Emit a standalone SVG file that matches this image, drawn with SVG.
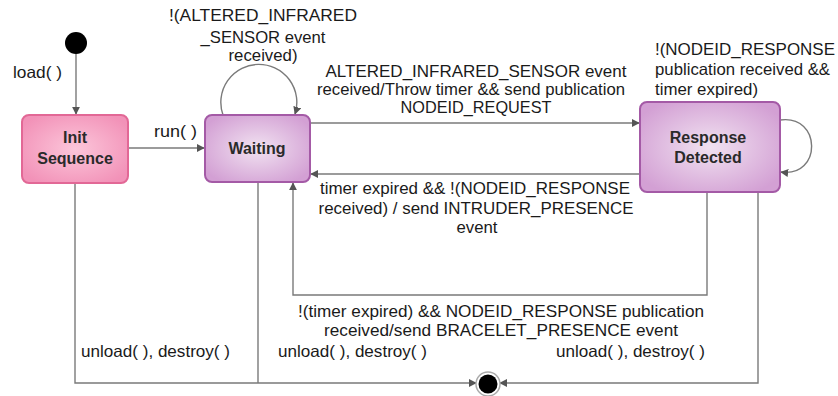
<svg xmlns="http://www.w3.org/2000/svg" width="838" height="396" viewBox="0 0 838 396">
<defs>
<style>
.lbl{font-family:"Liberation Sans",Arial,sans-serif;font-size:16.5px;fill:#1a1a1a}
.ttl{font-family:"Liberation Sans",Arial,sans-serif;font-size:16px;font-weight:bold;fill:#2a2a2a;text-anchor:middle}
.c{text-anchor:middle}
.edge{fill:none;stroke:#7a7a7a;stroke-width:1.4}
</style>
<radialGradient id="gPink" cx="50%" cy="50%" r="60%">
<stop offset="0" stop-color="#fcc6da"/>
<stop offset="1" stop-color="#f292b8"/>
</radialGradient>
<radialGradient id="gPurple" cx="50%" cy="50%" r="60%">
<stop offset="0" stop-color="#f1e2f1"/>
<stop offset="1" stop-color="#d3a0d4"/>
</radialGradient>
<marker id="arr" viewBox="0 0 10 10" refX="9" refY="5" markerWidth="8" markerHeight="8" markerUnits="userSpaceOnUse" orient="auto">
<path d="M0,0 L10,5 L0,10 z" fill="#555"/>
</marker>
</defs>
<rect width="838" height="396" fill="#ffffff"/>

<g id="connectors">
<path class="edge" d="M76,54 V114" marker-end="url(#arr)"/>
<path class="edge" d="M128,148 H204" marker-end="url(#arr)"/>
<path class="edge" d="M223,115 A38,38 0 1 1 295,114" marker-end="url(#arr)"/>
<path class="edge" d="M310,123 H639" marker-end="url(#arr)"/>
<path class="edge" d="M640,174 H311" marker-end="url(#arr)"/>
<path class="edge" d="M780,120 C822,114 822,178 781,172" marker-end="url(#arr)"/>
<path class="edge" d="M707,192 V295 H293 V183" marker-end="url(#arr)"/>
<path class="edge" d="M75,183 V383 H476" marker-end="url(#arr)"/>
<path class="edge" d="M258,182 V383"/>
<path class="edge" d="M758,192 V383 H500" marker-end="url(#arr)"/>
</g>

<g id="initial">
<circle cx="76" cy="43" r="11" fill="#000"/>
</g>
<g id="final">
<circle cx="488" cy="384" r="12" fill="#fff" stroke="#aaa" stroke-width="1.5"/>
<circle cx="488" cy="384" r="9.5" fill="#000"/>
</g>

<g id="init-sequence">
<rect x="22" y="115" width="106" height="68" rx="7" fill="url(#gPink)" stroke="#e26896" stroke-width="2"/>
<text class="ttl" x="75" y="143">Init</text>
<text class="ttl" x="75" y="164">Sequence</text>
</g>
<g id="waiting">
<rect x="205" y="115" width="105" height="67" rx="7" fill="url(#gPurple)" stroke="#a45aa6" stroke-width="2"/>
<text class="ttl" x="257" y="154">Waiting</text>
</g>
<g id="response-detected">
<rect x="640" y="102" width="140" height="90" rx="7" fill="url(#gPurple)" stroke="#a45aa6" stroke-width="2"/>
<text class="ttl" x="708" y="143">Response</text>
<text class="ttl" x="708" y="163">Detected</text>
</g>

<g id="labels">
<text class="lbl" x="13" y="78" textLength="49" lengthAdjust="spacingAndGlyphs">load( )</text>
<text class="lbl" x="154" y="137" textLength="43" lengthAdjust="spacingAndGlyphs">run( )</text>
<text class="lbl c" x="263" y="21" textLength="188" lengthAdjust="spacingAndGlyphs">!(ALTERED_INFRARED</text>
<text class="lbl c" x="263" y="43" textLength="125" lengthAdjust="spacingAndGlyphs">_SENSOR event</text>
<text class="lbl c" x="263" y="61" textLength="69" lengthAdjust="spacingAndGlyphs">received)</text>
<text class="lbl c" x="476" y="77" textLength="301" lengthAdjust="spacingAndGlyphs">ALTERED_INFRARED_SENSOR event</text>
<text class="lbl c" x="471" y="95" textLength="308" lengthAdjust="spacingAndGlyphs">received/Throw timer &amp;&amp; send publication</text>
<text class="lbl c" x="476" y="113" textLength="151" lengthAdjust="spacingAndGlyphs">NODEID_REQUEST</text>
<text class="lbl" x="655" y="55" textLength="180" lengthAdjust="spacingAndGlyphs">!(NODEID_RESPONSE</text>
<text class="lbl" x="655" y="75" textLength="175" lengthAdjust="spacingAndGlyphs">publication received &amp;&amp;</text>
<text class="lbl" x="655" y="95" textLength="103" lengthAdjust="spacingAndGlyphs">timer expired)</text>
<text class="lbl c" x="475" y="194" textLength="310" lengthAdjust="spacingAndGlyphs">timer expired &amp;&amp; !(NODEID_RESPONSE</text>
<text class="lbl c" x="476" y="214" textLength="315" lengthAdjust="spacingAndGlyphs">received) / send INTRUDER_PRESENCE</text>
<text class="lbl c" x="477" y="233" textLength="41" lengthAdjust="spacingAndGlyphs">event</text>
<text class="lbl c" x="501" y="317" textLength="406" lengthAdjust="spacingAndGlyphs">!(timer expired) &amp;&amp; NODEID_RESPONSE publication</text>
<text class="lbl c" x="501" y="336" textLength="354" lengthAdjust="spacingAndGlyphs">received/send BRACELET_PRESENCE event</text>
<text class="lbl" x="81" y="357" textLength="149" lengthAdjust="spacingAndGlyphs">unload( ), destroy( )</text>
<text class="lbl" x="278" y="357" textLength="149" lengthAdjust="spacingAndGlyphs">unload( ), destroy( )</text>
<text class="lbl" x="556" y="357" textLength="149" lengthAdjust="spacingAndGlyphs">unload( ), destroy( )</text>
</g>
</svg>
